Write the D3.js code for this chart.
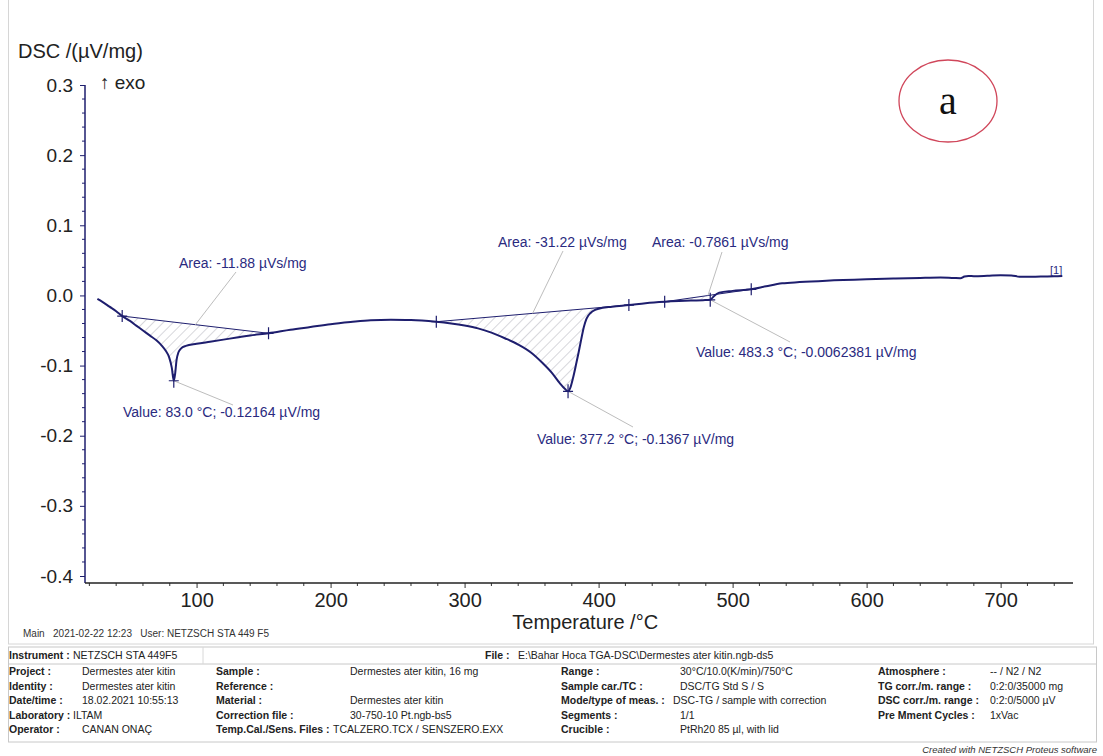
<!DOCTYPE html>
<html>
<head>
<meta charset="utf-8">
<script src="https://cdn.jsdelivr.net/npm/d3@7"></script>
<style>
  body { margin: 0; background: #fff; }
  svg { display: block; font-family: Arial, "Liberation Sans", sans-serif; }
</style>
</head>
<body>
<svg id="chart" width="1103" height="756"></svg>
<script>
// DSC signal of the sample, temperature in °C and heat flow in µV/mg
const temperature = [26, 30, 35, 40, 44.5, 50, 55, 60, 65, 70, 74, 77, 79.5, 81.5, 83, 84, 85, 86.5, 88.5, 92,
  100, 110, 120, 130, 140, 153.7, 170, 185, 200, 215, 230, 245, 260, 278.9, 290, 300, 310, 320, 330, 340,
  350, 358, 365, 371, 375, 377.2, 379, 381, 383, 385, 387, 389, 391, 394, 397, 400, 410, 422.6, 435, 449.3,
  460, 470, 478, 483.3, 486, 490, 500, 513.9, 525, 537, 550, 570, 600, 620, 640, 655, 665, 670, 673, 676,
  680, 690, 700, 708, 714, 720, 730, 740, 746];
const dsc = [-0.005, -0.0095, -0.016, -0.0225, -0.0294, -0.036, -0.043, -0.050, -0.057, -0.064, -0.0715, -0.079, -0.088, -0.103, -0.12164, -0.112, -0.093, -0.081, -0.0755, -0.072,
  -0.069, -0.066, -0.063, -0.060, -0.057, -0.054, -0.049, -0.045, -0.041, -0.038, -0.0355, -0.0348, -0.035, -0.0375, -0.040, -0.043, -0.047, -0.053, -0.061, -0.070,
  -0.082, -0.096, -0.110, -0.125, -0.1335, -0.1367, -0.131, -0.117, -0.100, -0.082, -0.063, -0.045, -0.033, -0.025, -0.021, -0.019, -0.016, -0.0137, -0.011, -0.009,
  -0.008, -0.0073, -0.0068, -0.0062381, -0.001, 0.004, 0.0065, 0.0087, 0.013, 0.0172, 0.019, 0.021, 0.023, 0.024, 0.025, 0.0255, 0.0248, 0.0245, 0.027, 0.0278,
  0.0275, 0.028, 0.0287, 0.0285, 0.0267, 0.0265, 0.027, 0.0272, 0.0277];

// axis ticks
const xTicks = [100, 200, 300, 400, 500, 600, 700];
const yTicks = [-0.4, -0.3, -0.2, -0.1, 0.0, 0.1, 0.2, 0.3];

// integrated peak areas: limits (°C) and results
const areaStart = [44.5, 278.9, 449.3];
const areaEnd = [153.7, 422.6, 513.9];
const areaResult = ["-11.88", "-31.22", "-0.7861"];

// picked peak values
const peakTemp = [83.0, 377.2, 483.3];
const peakValue = [-0.12164, -0.1367, -0.0062381];

// table of measurement parameters
const infoRows = [
  [["Project :", "Dermestes ater kitin"], ["Sample :", "Dermestes ater kitin, 16 mg"], ["Range :", "30°C/10.0(K/min)/750°C"], ["Atmosphere :", "-- / N2 / N2"]],
  [["Identity :", "Dermestes ater kitin"], ["Reference :", ""], ["Sample car./TC :", "DSC/TG Std S / S"], ["TG corr./m. range :", "0:2:0/35000 mg"]],
  [["Date/time :", "18.02.2021 10:55:13"], ["Material :", "Dermestes ater kitin"], ["Mode/type of meas. :", "DSC-TG / sample with correction"], ["DSC corr./m. range :", "0:2:0/5000 µV"]],
  [["Laboratory :", "ILTAM"], ["Correction file :", "30-750-10 Pt.ngb-bs5"], ["Segments :", "1/1"], ["Pre Mment Cycles :", "1xVac"]],
  [["Operator :", "CANAN ONAÇ"], ["Temp.Cal./Sens. Files :", "TCALZERO.TCX / SENSZERO.EXX"], ["Crucible :", "PtRh20 85 µl, with lid"], ["", ""]]
];

const svg = d3.select("#chart");
const navy = "#1e1e6e";
const textNavy = "#2a2a80";

const data = temperature.map((t, i) => ({ t, v: dsc[i] }));
const valueAt = t => {
  const i = d3.bisector(d => d.t).left(data, t);
  if (i <= 0) return data[0].v;
  if (i >= data.length) return data[data.length - 1].v;
  const a = data[i - 1], b = data[i];
  if (b.t === t) return b.v;
  return a.v + (b.v - a.v) * (t - a.t) / (b.t - a.t);
};

const x = d3.scaleLinear().domain([16, 754]).range([84, 1073]);
const y = d3.scaleLinear().domain([-0.4, 0.3]).range([576, 85]);
const axisY = 583;

// outer frame of the plot page
svg.append("rect").attr("x", 8.5).attr("y", -2).attr("width", 1085).attr("height", 646)
  .attr("fill", "none").attr("stroke", "#d6d6d6");

// hatch pattern for the integrated areas
const defs = svg.append("defs");
const pat = defs.append("pattern").attr("id", "hatch").attr("patternUnits", "userSpaceOnUse")
  .attr("width", 7).attr("height", 7).attr("patternTransform", "rotate(45)");
pat.append("line").attr("x1", 0).attr("y1", 0).attr("x2", 0).attr("y2", 7)
  .attr("stroke", "#9a9aa8").attr("stroke-width", 0.8);

// y axis
const gy = svg.append("g").attr("transform", `translate(85,0)`);
gy.call(d3.axisLeft(y).tickValues(yTicks).tickSize(5).tickPadding(7).tickFormat(d => d.toFixed(1)));
gy.select(".domain").remove();
gy.selectAll(".tick line").attr("stroke", navy);
gy.selectAll(".tick text").attr("font-size", 19).attr("fill", "#222").attr("font-family", "Arial, 'Liberation Sans', sans-serif");
const yMinor = d3.range(-0.4, 0.3001, 0.02).filter(v => Math.abs(Math.round(v * 10) - v * 10) > 1e-6);
gy.selectAll(".minor").data(yMinor).join("line").attr("class", "minor")
  .attr("x1", -3).attr("x2", 0).attr("y1", d => y(d)).attr("y2", d => y(d)).attr("stroke", navy);
gy.append("line").attr("x1", 0).attr("x2", 0).attr("y1", y(0.3)).attr("y2", axisY).attr("stroke", navy).attr("stroke-width", 1.5);

// x axis
const gx = svg.append("g").attr("transform", `translate(0,${axisY})`);
gx.call(d3.axisBottom(x).tickValues(xTicks).tickSize(5).tickPadding(5).tickFormat(d3.format("d")));
gx.select(".domain").remove();
gx.selectAll(".tick line").attr("stroke", "#333");
gx.selectAll(".tick text").attr("font-size", 20).attr("fill", "#222").attr("font-family", "Arial, 'Liberation Sans', sans-serif");
const xMinor = d3.range(20, 754, 20).filter(v => v % 100 !== 0);
gx.selectAll(".minor").data(xMinor).join("line").attr("class", "minor")
  .attr("x1", d => x(d)).attr("x2", d => x(d)).attr("y1", 0).attr("y2", 3).attr("stroke", "#333");
gx.append("line").attr("x1", 85).attr("x2", x(754)).attr("y1", 0).attr("y2", 0).attr("stroke", "#222").attr("stroke-width", 1.5);

// axis titles
svg.append("text").attr("x", 18).attr("y", 58).attr("font-size", 20).attr("fill", "#222").text("DSC /(µV/mg)");
svg.append("text").attr("x", 100).attr("y", 89).attr("font-size", 19).attr("fill", "#222").text("↑ exo");
svg.append("text").attr("x", x(390)).attr("y", 629).attr("text-anchor", "middle").attr("font-size", 20).attr("fill", "#222").text("Temperature /°C");

// integrated areas: hatch + baseline
areaStart.forEach((a, i) => {
  const b = areaEnd[i];
  const va = valueAt(a), vb = valueAt(b);
  const base = t => va + (vb - va) * (t - a) / (b - a);
  const seg = data.filter(d => d.t >= a && d.t <= b);
  svg.append("path").datum(seg)
    .attr("d", d3.area().x(d => x(d.t)).y0(d => y(base(d.t))).y1(d => y(d.v)).curve(d3.curveMonotoneX))
    .attr("fill", "url(#hatch)");
  svg.append("line").attr("x1", x(a)).attr("y1", y(va)).attr("x2", x(b)).attr("y2", y(vb))
    .attr("stroke", navy).attr("stroke-width", 1);
});

// DSC curve
svg.append("path").datum(data)
  .attr("d", d3.line().x(d => x(d.t)).y(d => y(d.v)).curve(d3.curveMonotoneX))
  .attr("fill", "none").attr("stroke", navy).attr("stroke-width", 2).attr("stroke-linejoin", "round");

// leader lines and annotation texts
const leader = (x1, y1, x2, y2) => svg.append("line").attr("x1", x1).attr("y1", y1).attr("x2", x2).attr("y2", y2)
  .attr("stroke", "#bdbdbd").attr("stroke-width", 1);
const note = (tx, ty, s) => svg.append("text").attr("x", tx).attr("y", ty).attr("font-size", 14).attr("fill", textNavy).text(s);

const areaTextPos = [[179, 268], [498, 247], [652, 247]];
const areaLeadEnd = [[236, 272], [563, 251], [722, 252]];
areaStart.forEach((a, i) => {
  const b = areaEnd[i];
  const mid = (a + b) / 2;
  const vm = (valueAt(a) + valueAt(b)) / 2;
  leader(x(mid), y(vm), areaLeadEnd[i][0], areaLeadEnd[i][1]);
  note(areaTextPos[i][0], areaTextPos[i][1], `Area: ${areaResult[i]} µVs/mg`);
});

const peakTextPos = [[123, 417], [537, 444], [696, 357]];
const peakLeadEnd = [[233, 405], [633, 427], [790, 342]];
peakTemp.forEach((t, i) => {
  leader(x(t), y(peakValue[i]), peakLeadEnd[i][0], peakLeadEnd[i][1]);
  note(peakTextPos[i][0], peakTextPos[i][1], `Value: ${t.toFixed(1)} °C; ${peakValue[i]} µV/mg`);
});

// cross markers at integration limits and picked peaks
const crossTemps = areaStart.concat(areaEnd);
const cross = (t, v, w, h) => {
  svg.append("path").attr("d", `M${x(t) - w},${y(v)}H${x(t) + w}M${x(t)},${y(v) - h}V${y(v) + h}`)
    .attr("stroke", navy).attr("stroke-width", 1.2).attr("fill", "none");
};
crossTemps.forEach(t => cross(t, valueAt(t), 5, 6));
peakTemp.forEach((t, i) => cross(t, peakValue[i], 5, 7));

// curve label
svg.append("text").attr("x", x(746)).attr("y", 274).attr("text-anchor", "end").attr("font-size", 11).attr("fill", textNavy).text("[1]");

// sample tag
svg.append("ellipse").attr("cx", 948).attr("cy", 101).attr("rx", 49).attr("ry", 41)
  .attr("fill", "none").attr("stroke", "#d0465a").attr("stroke-width", 1.3);
svg.append("text").attr("x", 948).attr("y", 114).attr("text-anchor", "middle")
  .attr("font-family", "'Liberation Serif', 'DejaVu Serif', serif").attr("font-size", 40).attr("fill", "#111").text("a");

// run line
svg.append("text").attr("x", 23).attr("y", 637).attr("font-size", 10).attr("fill", "#333")
  .style("white-space", "pre").text("Main   2021-02-22 12:23   User: NETZSCH STA 449 F5");

// parameter table
const tTop = 647, tBottom = 742;
svg.append("rect").attr("x", 8.5).attr("y", tTop).attr("width", 1088).attr("height", tBottom - tTop)
  .attr("fill", "none").attr("stroke", "#c8c8c8");
svg.append("line").attr("x1", 8.5).attr("x2", 1096.5).attr("y1", 664).attr("y2", 664).attr("stroke", "#c8c8c8");
svg.append("line").attr("x1", 203).attr("x2", 203).attr("y1", tTop).attr("y2", 664).attr("stroke", "#d8d8d8");

const tfont = 10.5;
svg.append("text").attr("x", 9).attr("y", 659).attr("font-size", tfont).attr("font-weight", "bold").attr("fill", "#222").text("Instrument :");
svg.append("text").attr("x", 73).attr("y", 659).attr("font-size", tfont).attr("fill", "#222").text("NETZSCH STA 449F5");
svg.append("text").attr("x", 485).attr("y", 659).attr("font-size", tfont).attr("font-weight", "bold").attr("fill", "#222").text("File :");
svg.append("text").attr("x", 518).attr("y", 659).attr("font-size", tfont).attr("fill", "#222").text("E:\\Bahar Hoca TGA-DSC\\Dermestes ater kitin.ngb-ds5");

const colLabelX = [9, 216, 561, 878];
const colValueX = [82, 350, 680, 990];
infoRows.forEach((row, r) => {
  const ty = 675 + r * 14.5;
  row.forEach((cell, c) => {
    let vx = colValueX[c];
    if (c === 0 && cell[0] === "Laboratory :") vx = 73;
    if (c === 1 && cell[0].startsWith("Temp.Cal")) vx = 333;
    if (c === 2 && cell[0].startsWith("Mode")) vx = 673;
    svg.append("text").attr("x", colLabelX[c]).attr("y", ty).attr("font-size", tfont).attr("font-weight", "bold").attr("fill", "#222").text(cell[0]);
    svg.append("text").attr("x", vx).attr("y", ty).attr("font-size", tfont).attr("fill", "#222").text(cell[1]);
  });
});

svg.append("text").attr("x", 1097).attr("y", 753).attr("text-anchor", "end").attr("font-size", 9.5)
  .attr("font-style", "italic").attr("fill", "#333").text("Created with NETZSCH Proteus software");
</script>
</body>
</html>
